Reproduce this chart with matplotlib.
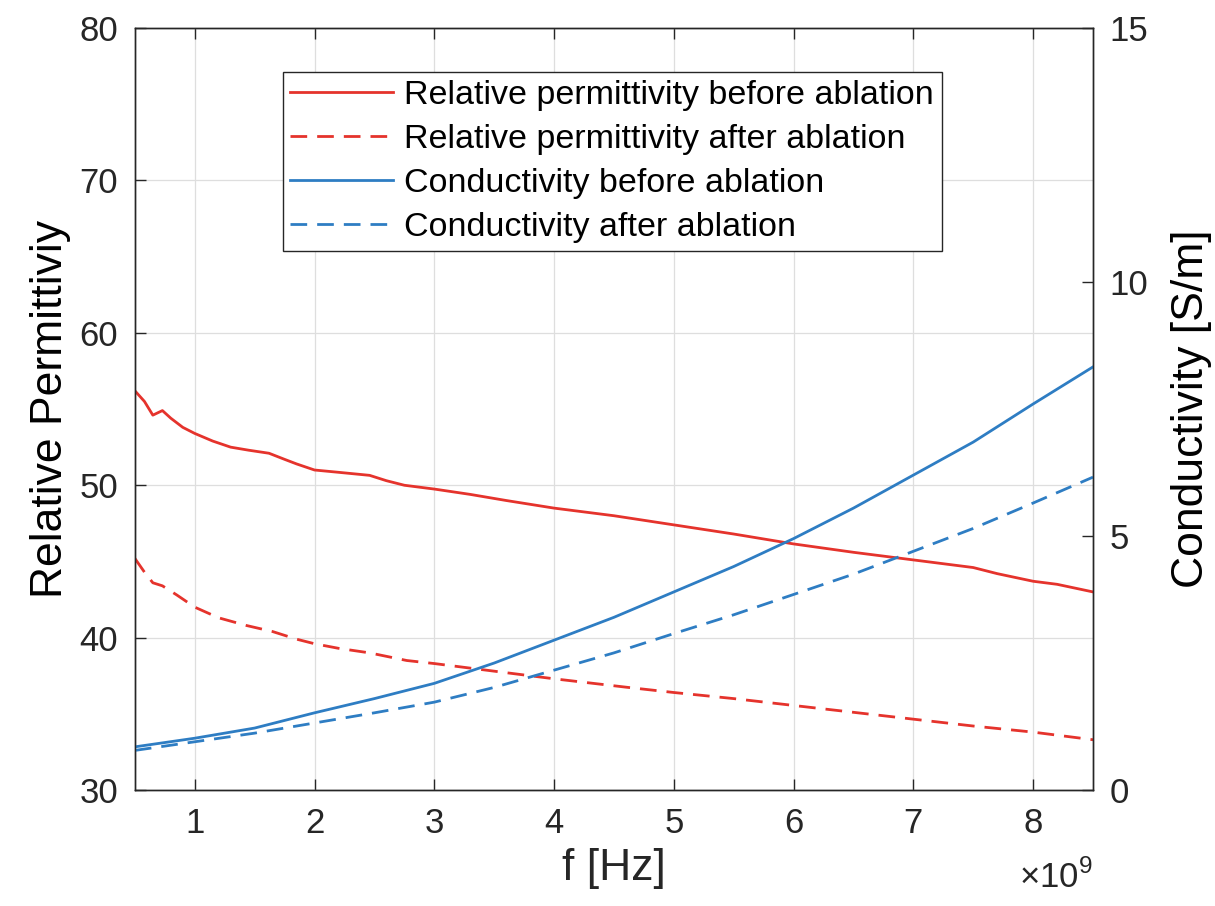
import matplotlib
matplotlib.use("Agg")
import matplotlib.pyplot as plt

plt.rcParams['font.family'] = ['Liberation Sans', 'DejaVu Sans']
plt.rcParams['mathtext.fontset'] = 'custom'
plt.rcParams['mathtext.rm'] = 'Liberation Sans'

RED = '#E5332C'
BLUE = '#2E7DC3'
AX = '#262626'

# frequency in units of 1e9 Hz
f_eps_before = [0.5, 0.58, 0.65, 0.73, 0.8, 0.9, 1.0, 1.15, 1.3, 1.45, 1.62, 1.75, 1.85,
                2.0, 2.2, 2.46, 2.6, 2.75, 3.0, 3.3, 3.6, 4.0, 4.5, 5.0, 5.5, 6.0,
                6.5, 7.0, 7.5, 7.7, 8.0, 8.2, 8.5]
eps_before = [56.2, 55.5, 54.6, 54.9, 54.4, 53.8, 53.4, 52.9, 52.5, 52.3, 52.1, 51.7, 51.4,
              51.0, 50.85, 50.65, 50.3, 50.0, 49.75, 49.4, 49.0, 48.5, 48.0, 47.4, 46.8, 46.15,
              45.6, 45.1, 44.6, 44.2, 43.7, 43.5, 43.0]

f_eps_after = [0.5, 0.58, 0.65, 0.73, 0.85, 1.0, 1.2, 1.43, 1.65, 1.85, 2.0, 2.2, 2.46,
               2.77, 3.0, 3.5, 4.0, 4.6, 5.0, 5.5, 6.0, 6.5, 7.0, 7.5, 8.0, 8.5]
eps_after = [45.2, 44.3, 43.6, 43.4, 42.8, 42.0, 41.3, 40.8, 40.4, 39.9, 39.6, 39.3, 39.0,
             38.5, 38.3, 37.8, 37.3, 36.75, 36.4, 36.0, 35.55, 35.1, 34.65, 34.2, 33.8, 33.3]

f_sig = [0.5, 1.0, 1.5, 2.0, 2.5, 3.0, 3.5, 4.0, 4.5, 5.0, 5.5, 6.0, 6.5, 7.0, 7.5, 8.0, 8.5]
sig_before = [0.85, 1.02, 1.22, 1.52, 1.8, 2.1, 2.5, 2.95, 3.4, 3.9, 4.4, 4.95, 5.55,
              6.2, 6.85, 7.6, 8.33]
sig_after = [0.78, 0.95, 1.12, 1.32, 1.52, 1.73, 2.02, 2.36, 2.7, 3.08, 3.45, 3.85, 4.25,
             4.7, 5.15, 5.65, 6.16]

labels = ["Relative permittivity before ablation", "Relative permittivity after ablation",
          "Conductivity before ablation", "Conductivity after ablation"]

fig = plt.figure(figsize=(12.15, 9.06), dpi=100)
ax = fig.add_axes([0.111, 0.128, 0.7886, 0.841])
ax2 = ax.twinx()

lw = 2.0
dash = (6, 3.6)
l1, = ax.plot(f_eps_before, eps_before, color=RED, lw=lw)
l2, = ax.plot(f_eps_after, eps_after, color=RED, lw=lw, dashes=dash)
l3, = ax2.plot(f_sig, sig_before, color=BLUE, lw=lw)
l4, = ax2.plot(f_sig, sig_after, color=BLUE, lw=lw, dashes=dash)

ax.set_xlim(0.5, 8.5)
ax.set_ylim(30, 80)
ax2.set_ylim(0, 15)
ax.set_xticks(range(1, 9))
ax.set_yticks(range(30, 81, 10))
ax2.set_yticks([0, 5, 10, 15])

ax.grid(True, color='#dedede', lw=0.9)
ax.set_axisbelow(True)

for a in (ax, ax2):
    for s in a.spines.values():
        s.set_color(AX)
        s.set_linewidth(1.0)
ax.tick_params(axis='both', direction='in', length=8, width=1.0, colors=AX,
               labelsize=25, pad=12, top=True)
ax.tick_params(axis='y', right=False)
ax2.tick_params(axis='y', direction='in', length=8, width=1.0, colors=AX,
                labelsize=25, pad=12)

ax.set_xlabel("f [Hz]", fontsize=32, color=AX, labelpad=6)
ax.set_ylabel("Relative Permittiviy", fontsize=32, color='black', labelpad=6)
ax2.set_ylabel("Conductivity [S/m]", fontsize=32, color='black', labelpad=16)

fig.text(0.899, 0.012, r"$\times10^{9}$", ha='right', va='bottom', fontsize=25, color=AX)

leg = fig.legend([l1, l2, l3, l4], labels, loc='upper left',
                 bbox_to_anchor=(0.2329, 0.9205), fontsize=24.5, frameon=True,
                 fancybox=False, edgecolor=AX, framealpha=1, handlelength=3.0,
                 handletextpad=0.35, borderpad=0.22, labelspacing=0.39, borderaxespad=0)
leg.get_frame().set_linewidth(1.0)

fig.savefig("out.png", dpi=100, facecolor='white')
